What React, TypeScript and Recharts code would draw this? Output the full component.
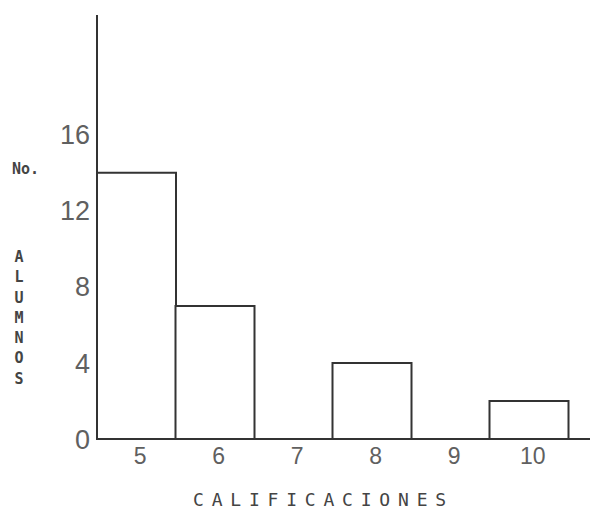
import React from 'react';
import { BarChart, Bar, XAxis, YAxis } from 'recharts';

const grades = ['5', '6', '7', '8', '9', '10'];
const students = [14, 7, 0, 4, 0, 2];
const yTicks = [0, 4, 8, 12, 16];

const data = grades.map((g, i) => ({ grade: g, count: students[i] }));

const ink = '#333333';
const soft = '#606060';

export default function App() {
  return (
    <div style={{ position: 'absolute', left: 0, top: 0, width: 593, height: 510, background: '#fff' }}>
      <BarChart
        width={593}
        height={510}
        data={data}
        margin={{ top: 15, right: 3, left: 0, bottom: 0 }}
        barCategoryGap={0}
      >
        <XAxis
          dataKey="grade"
          height={71}
          padding={{ left: 0, right: 22 }}
          axisLine={{ stroke: ink, strokeWidth: 2 }}
          tickLine={false}
          tickSize={0}
          tickMargin={9}
          tick={{ fill: soft, fontSize: 23, dx: 4, fontFamily: 'Liberation Sans, sans-serif' }}
        />
        <YAxis
          width={97}
          domain={[0, 22.3]}
          ticks={yTicks}
          interval={0}
          axisLine={{ stroke: ink, strokeWidth: 2 }}
          tickLine={false}
          tickSize={0}
          tickMargin={7}
          tick={{ fill: soft, fontSize: 27, fontFamily: 'Liberation Sans, sans-serif' }}
        />
        <Bar dataKey="count" fill="#ffffff" stroke={ink} strokeWidth={2} isAnimationActive={false} />
      </BarChart>
      <div style={{ position: 'absolute', left: 12, top: 160, fontFamily: 'DejaVu Sans Mono, monospace', fontWeight: 'bold', fontSize: 15, color: '#444' }}>
        No.
      </div>
      <div style={{ position: 'absolute', left: 11, top: 247, width: 16, fontFamily: 'DejaVu Sans Mono, monospace', fontWeight: 'bold', fontSize: 15, lineHeight: '20.3px', color: '#444', textAlign: 'center' }}>
        {'ALUMNOS'.split('').map((c, i) => <div key={i}>{c}</div>)}
      </div>
      <div style={{ position: 'absolute', left: 193, top: 489, fontFamily: 'DejaVu Sans Mono, monospace', fontSize: 18, letterSpacing: 7.8, color: '#444', whiteSpace: 'nowrap' }}>
        CALIFICACIONES
      </div>
    </div>
  );
}
